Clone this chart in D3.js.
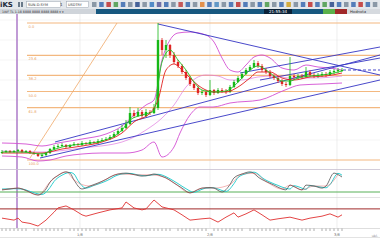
<!DOCTYPE html>
<html><head><meta charset="utf-8">
<script src="https://cdn.jsdelivr.net/npm/d3@7"></script>
<style>body{margin:0;background:#fff;overflow:hidden}svg{display:block}text{font-family:"DejaVu Sans",sans-serif}</style>
</head><body><svg id="c" width="380" height="240"></svg>
<script>
// ---------- DATA ----------
const opens=[1.07,1.08,1.09,1.08,1.09,1.10,1.08,1.09,1.07,1.06,
1.04,1.05,1.07,1.11,1.13,1.14,1.15,1.13,1.15,1.16,
1.15,1.17,1.16,1.18,1.17,1.19,1.20,1.21,1.23,1.26,
1.29,1.32,1.36,1.47,1.44,1.48,1.44,1.48,1.47,1.52,
2.20,2.10,2.15,2.05,1.98,1.94,1.88,1.82,1.76,1.72,
1.67,1.68,1.65,1.70,1.67,1.70,1.69,1.68,1.73,1.78,
1.82,1.86,1.90,1.93,1.97,1.94,1.90,1.88,1.84,1.82,
1.79,1.76,1.75,1.84,1.83,1.84,1.83,1.88,1.85,1.84,
1.85,1.86,1.85,1.88,1.89,1.89];
const highs=[1.10,1.10,1.10,1.10,1.11,1.11,1.10,1.10,1.08,1.07,
1.07,1.08,1.12,1.15,1.16,1.17,1.16,1.16,1.18,1.17,
1.19,1.18,1.20,1.19,1.21,1.22,1.23,1.25,1.28,1.31,
1.35,1.40,1.53,1.50,1.52,1.50,1.51,1.50,1.56,2.37,
2.22,2.20,2.16,2.08,2.00,1.96,1.90,1.84,1.78,1.74,
1.70,1.70,1.80,1.71,1.72,1.72,1.71,1.75,1.80,1.84,
1.88,1.92,1.95,2.00,1.99,1.96,1.92,1.90,1.86,1.84,
1.81,1.78,2.03,1.86,1.86,1.86,1.93,1.90,1.87,1.87,
1.88,1.88,1.90,1.91,1.92,1.92];
const lows=[1.06,1.07,1.07,1.07,1.08,1.07,1.07,1.06,1.05,1.03,
1.03,1.04,1.06,1.10,1.12,1.13,1.12,1.12,1.14,1.14,
1.14,1.15,1.15,1.16,1.16,1.18,1.19,1.20,1.22,1.25,
1.28,1.31,1.35,1.42,1.43,1.42,1.43,1.45,1.46,1.50,
2.05,2.02,2.02,1.96,1.92,1.86,1.80,1.74,1.70,1.65,
1.65,1.63,1.64,1.65,1.66,1.67,1.66,1.67,1.72,1.77,
1.81,1.85,1.89,1.92,1.92,1.88,1.86,1.82,1.80,1.77,
1.74,1.73,1.74,1.80,1.81,1.81,1.82,1.83,1.82,1.82,
1.83,1.83,1.84,1.86,1.87,1.88];
const closes=[1.08,1.09,1.08,1.09,1.10,1.08,1.09,1.07,1.06,1.04,
1.05,1.07,1.11,1.13,1.14,1.15,1.13,1.15,1.16,1.15,
1.17,1.16,1.18,1.17,1.19,1.20,1.21,1.23,1.26,1.29,
1.32,1.36,1.47,1.44,1.48,1.44,1.48,1.47,1.52,2.20,
2.10,2.15,2.05,1.98,1.94,1.88,1.82,1.76,1.72,1.67,
1.68,1.65,1.70,1.67,1.70,1.69,1.68,1.73,1.78,1.82,
1.86,1.90,1.93,1.97,1.94,1.90,1.88,1.84,1.82,1.79,
1.76,1.75,1.84,1.83,1.84,1.83,1.88,1.85,1.84,1.85,
1.86,1.85,1.88,1.89,1.90,1.90];

const redMA=[[0,1.07],[10,1.07],[15,1.11],[20,1.14],[25,1.18],[30,1.27],[33,1.38],[37,1.47],[39,1.60],[41,1.90],[43,1.96],[45,1.90],[47,1.82],[50,1.72],[53,1.68],[56,1.68],[59,1.73],[62,1.82],[64,1.88],[67,1.88],[70,1.82],[73,1.80],[77,1.83],[81,1.84],[85,1.87]];
const greenMA=[[0,1.08],[5,1.08],[10,1.06],[12,1.09],[15,1.13],[20,1.16],[25,1.19],[30,1.30],[32,1.40],[35,1.45],[38,1.49],[39,1.75],[40,1.98],[42,2.10],[44,2.00],[46,1.90],[48,1.78],[50,1.70],[53,1.68],[56,1.69],[58,1.74],[60,1.82],[62,1.90],[64,1.94],[66,1.90],[68,1.84],[70,1.79],[72,1.79],[74,1.82],[77,1.84],[80,1.85],[83,1.87],[85,1.89]];
const bbUpper=[[0,1.17],[6,1.16],[10,1.14],[14,1.17],[20,1.21],[26,1.26],[30,1.34],[33,1.45],[36,1.55],[38,1.60],[40,2.00],[42,2.20],[44,2.27],[47,2.28],[51,2.25],[53,2.18],[55,2.02],[57,1.90],[59,1.88],[61,1.95],[63,2.03],[65,2.05],[67,2.02],[70,1.92],[73,1.90],[76,1.95],[79,1.93],[82,1.92],[85,1.90]];
const bbLower=[[0,1.04],[5,1.03],[9,0.99],[12,1.00],[16,1.04],[20,1.06],[25,1.07],[31,1.07],[35,1.10],[38,1.18],[40,1.03],[43,1.13],[44.5,1.27],[47,1.45],[49.5,1.53],[52.75,1.53],[57,1.57],[64.5,1.60],[70.75,1.70],[74.5,1.75],[80,1.76],[85,1.77]];
const bbMid=[[0,1.09],[10,1.08],[20,1.12],[30,1.18],[36,1.30],[40,1.42],[43,1.55],[46,1.73],[51,1.85],[54,1.84],[57,1.80],[60,1.80],[64,1.83],[68,1.84],[72,1.82],[78,1.82],[85,1.84]];

// trend lines: [index0, price0, index1, price1]
const trendLines=[[39,2.36,94.5,1.85],[9.5,1.02,94.5,1.80],[13.25,1.18,94.5,2.05],[59.5,1.87,94.5,2.13],[64.5,1.80,94.5,2.02]];
const dashLevel=[85.25,1.90,94.5];
// fibonacci
const fibHigh=2.37, fibLow=1.00;
const fibRatios=[0,0.236,0.382,0.5,0.618,1];
const fibLabels=["0.0","23.6","38.2","50.0","61.8","100.0"];
const fibStartIdx=6.25;
const fibTrend=[7,1.02,28.75,2.37];
const markerIdx=3.75;

const stochK=[[0,27],[2,30],[4,33],[6,25],[9,10],[11,30],[12,53],[14,75],[16,87],[17,83],[18,60],[20,30],[22,40],[24,50],[26,62],[27,70],[29,80],[31,83],[33,78],[35,73],[37,77],[38,80],[40,72],[41,67],[43,50],[45,33],[47,17],[49,28],[50,33],[52,35],[53,33],[55,20],[57,45],[58,67],[60,80],[62,87],[63,82],[64,70],[66,55],[68,43],[70,30],[71,27],[72,43],[73,38],[75,27],[76,43],[78,40],[80,33],[81,40],[83,83],[84,78],[85,70]];
const stochD=[[0,30],[3,31],[5,30],[7,22],[10,12],[12,35],[13,55],[15,76],[17,85],[18,80],[19,58],[21,33],[23,42],[25,51],[27,63],[28,71],[30,80],[32,82],[34,77],[36,74],[38,78],[39,79],[41,71],[42,64],[44,48],[46,31],[48,19],[50,29],[51,33],[53,34],[54,30],[56,22],[58,48],[59,68],[61,81],[63,86],[64,80],[65,68],[67,53],[69,42],[71,32],[72,30],[73,41],[74,38],[76,29],[77,41],[79,38],[81,34],[82,45],[84,82],[85,76]];
const stochLevels=[20,92];
const rsi=[[0,42],[3,36],[4,42],[5,30],[7,26],[9,18],[11,36],[13,60],[14,73],[16,79],[18,67],[20,52],[21,48],[24,58],[27,67],[30,73],[31,91],[33,73],[35,67],[36,70],[38,97],[40,76],[41,73],[43,67],[45,52],[47,36],[50,40],[52,42],[54,30],[56,45],[58,58],[59,45],[61,55],[63,67],[65,52],[67,36],[69,40],[72,45],[75,36],[77,42],[80,48],[82,55],[84,45],[85,52]];
const rsiLevel=70;

const dateLabels=["1/8","2/8","3/8"];
const dateIdx=[19.5,52,83.75];
const priceGrid=[1.2,1.4,1.6,1.8,2.0,2.2,2.4];

// ---------- DRAW ----------
const svg=d3.select("#c");
const x=d3.scaleLinear().domain([0,85]).range([2,342]);
const y=d3.scaleLinear().domain([0.92,2.46]).range([168,14]);
const yS=d3.scaleLinear().domain([0,100]).range([198,168]);
const yR=d3.scaleLinear().domain([0,100]).range([232,199]);

svg.append("rect").attr("width",380).attr("height",240).attr("fill","#fff");

// toolbar
svg.append("rect").attr("x",0).attr("y",0).attr("width",380).attr("height",9).attr("fill","#e3e7eb");
svg.append("text").attr("x",0).attr("y",7).attr("font-size",7).attr("font-weight","bold").attr("fill","#1d2a3a").text("iKS");
svg.append("rect").attr("x",18).attr("y",2).attr("width",2).attr("height",5).attr("fill","#6a7a8a");
svg.append("rect").attr("x",21).attr("y",2).attr("width",2).attr("height",5).attr("fill","#6a7a8a");
svg.append("rect").attr("x",26.5).attr("y",1.5).attr("width",34).attr("height",6).attr("fill","#fff").attr("stroke","#9aa4b0").attr("stroke-width",0.5);
svg.append("text").attr("x",28).attr("y",6).attr("font-size",3.5).attr("fill","#333").text("SUN-D-SYM");
svg.append("text").attr("x",60).attr("y",6).attr("font-size",4).attr("fill","#333").text("1");
svg.append("rect").attr("x",66.5).attr("y",1.5).attr("width",22).attr("height",6).attr("fill","#fff").attr("stroke","#9aa4b0").attr("stroke-width",0.5);
svg.append("text").attr("x",68).attr("y",6).attr("font-size",3.5).attr("fill","#333").text("USDTRY");
const iconColors=["#7a8a9a","#3a6ab0","#c03030","#4a9a4a","#3a6ab0","#7a8a9a","#2a4a8a","#7a8a9a","#3a7ac0","#5a5a9a","#3a6ab0","#7a8a9a","#c04040","#3a6ab0","#7a8a9a","#e08030","#3a6ab0","#4a8ac0","#7a8a9a","#3a6ab0","#c03030","#3a6ab0","#7a8a9a","#3a6ab0","#4a9a4a","#7a8a9a","#3a6ab0","#d0a020","#7a8a9a","#3a6ab0","#c03030","#3a6ab0","#4a9a4a","#2a4a8a","#3a6ab0","#7a8a9a","#3a6ab0","#c03030","#3a6ab0","#7a8a9a"];
iconColors.forEach((c,k)=>{svg.append("rect").attr("x",92+k*7.2).attr("y",2).attr("width",4.5).attr("height",5).attr("fill",c).attr("opacity",0.85);});
// second bar
svg.append("rect").attr("x",0).attr("y",9).attr("width",96).attr("height",5).attr("fill","#cfd4da");
svg.append("text").attr("x",2).attr("y",12.8).attr("font-size",3.2).attr("fill","#333").text("1WF   TL   1.18  8888 8888 8888 8888 \u25be \u25be");
svg.append("rect").attr("x",96).attr("y",9).attr("width",227).attr("height",5).attr("fill","#17587f");
svg.append("rect").attr("x",264).attr("y",9).attr("width",28).attr("height",5).attr("fill","#0a2238");
svg.append("text").attr("x",278).attr("y",13).attr("text-anchor","middle").attr("font-size",4).attr("fill","#fff").text("21:55:34");
svg.append("rect").attr("x",323).attr("y",9).attr("width",12).attr("height",5).attr("fill","#5ab04a");
svg.append("rect").attr("x",335).attr("y",9).attr("width",12).attr("height",5).attr("fill","#a02828");
svg.append("rect").attr("x",347).attr("y",9).attr("width",33).attr("height",5).attr("fill","#d6dadf");
svg.append("text").attr("x",350).attr("y",13).attr("font-size",3.8).attr("fill","#333").text("Hodnota");

// grid
const g=svg.append("g");
priceGrid.forEach(p=>g.append("line").attr("x1",0).attr("x2",380).attr("y1",y(p)).attr("y2",y(p)).attr("stroke","#eeeeee").attr("stroke-width",0.6));
dateIdx.forEach(i=>g.append("line").attr("x1",x(i)).attr("x2",x(i)).attr("y1",14).attr("y2",228).attr("stroke","#e2e2e2").attr("stroke-width",0.6));

// fib levels
fibRatios.forEach((r,k)=>{
  const p=fibHigh-r*(fibHigh-fibLow);
  g.append("line").attr("x1",x(fibStartIdx)).attr("x2",380).attr("y1",y(p)).attr("y2",y(p)).attr("stroke","#f3b880").attr("stroke-width",1.2);
  g.append("text").attr("x",x(fibStartIdx)+1.5).attr("y",y(p)+5).attr("font-size",3.6).attr("fill","#e8a060").text(fibLabels[k]);
});
g.append("line").attr("x1",x(fibTrend[0])).attr("y1",y(fibTrend[1])).attr("x2",x(fibTrend[2])).attr("y2",y(fibTrend[3])).attr("stroke","#f0a868").attr("stroke-width",0.8);

// marker vertical purple
g.append("line").attr("x1",x(markerIdx)).attr("x2",x(markerIdx)).attr("y1",14).attr("y2",228).attr("stroke","#b283cc").attr("stroke-width",1.6);

const line=d3.line().x(d=>x(d[0])).y(d=>y(d[1])).curve(d3.curveMonotoneX);
function path(data,col,w){svg.append("path").attr("d",line(data)).attr("fill","none").attr("stroke",col).attr("stroke-width",w);}
path(bbUpper,"#d24fd2",0.9);
path(bbLower,"#d24fd2",0.9);
path(bbMid,"#e07ae0",0.7);

// trend lines
trendLines.forEach(t=>svg.append("line").attr("x1",x(t[0])).attr("y1",y(t[1])).attr("x2",x(t[2])).attr("y2",y(t[3])).attr("stroke","#3434c4").attr("stroke-width",0.9));
svg.append("line").attr("x1",x(dashLevel[0])).attr("x2",x(dashLevel[2])).attr("y1",y(dashLevel[1])).attr("y2",y(dashLevel[1])).attr("stroke","#3434c4").attr("stroke-width",0.9).attr("stroke-dasharray","3,2");

// candles
const cg=svg.append("g");
closes.forEach((c,i)=>{
  const o=opens[i],up=c>=o,col=up?"#16b816":"#e02424";
  cg.append("line").attr("x1",x(i)).attr("x2",x(i)).attr("y1",y(highs[i])).attr("y2",y(lows[i])).attr("stroke",col).attr("stroke-width",0.8);
  const t=y(Math.max(o,c)),b=y(Math.min(o,c));
  cg.append("rect").attr("x",x(i)-1.2).attr("y",t).attr("width",2.4).attr("height",Math.max(1,b-t)).attr("fill",col);
});
path(redMA,"#e02020",0.9);
path(greenMA,"#20c020",0.9);

// panes separators
svg.append("line").attr("x1",0).attr("x2",380).attr("y1",169.5).attr("y2",169.5).attr("stroke","#c8c0d0").attr("stroke-width",0.8);
svg.append("line").attr("x1",0).attr("x2",380).attr("y1",yS(stochLevels[0])).attr("y2",yS(stochLevels[0])).attr("stroke","#58b058").attr("stroke-width",1);
svg.append("line").attr("x1",0).attr("x2",380).attr("y1",197.5).attr("y2",197.5).attr("stroke","#d0d0d0").attr("stroke-width",0.6);
svg.append("line").attr("x1",0).attr("x2",380).attr("y1",yR(rsiLevel)).attr("y2",yR(rsiLevel)).attr("stroke","#a02a2a").attr("stroke-width",1);

const lS=d3.line().x(d=>x(d[0])).y(d=>yS(d[1])).curve(d3.curveMonotoneX);
svg.append("path").attr("d",lS(stochD)).attr("fill","none").attr("stroke","#30d0d0").attr("stroke-width",1);
svg.append("path").attr("d",lS(stochK)).attr("fill","none").attr("stroke","#555").attr("stroke-width",0.8);
svg.append("path").attr("d",lS(stochK.filter((d,k)=>k%2===0))).attr("fill","none").attr("stroke","#e03030").attr("stroke-width",0.5).attr("opacity",0.7);
const lR=d3.line().x(d=>x(d[0])).y(d=>yR(d[1])).curve(d3.curveLinear);
svg.append("path").attr("d",lR(rsi)).attr("fill","none").attr("stroke","#e03030").attr("stroke-width",0.9);

// bottom axis
svg.append("line").attr("x1",0).attr("x2",380).attr("y1",228.5).attr("y2",228.5).attr("stroke","#c8c8c8").attr("stroke-width",0.6);
closes.forEach((c,i)=>{ if(i%9!==7) svg.append("line").attr("x1",x(i)).attr("x2",x(i)).attr("y1",228.5).attr("y2",231).attr("stroke","#777").attr("stroke-width",0.6);});
dateLabels.forEach((t,k)=>svg.append("text").attr("x",x(dateIdx[k])).attr("y",235.5).attr("text-anchor","middle").attr("font-size",3.6).attr("fill","#666").text(t));
svg.append("line").attr("x1",0).attr("x2",380).attr("y1",237.5).attr("y2",237.5).attr("stroke","#d0d0d0").attr("stroke-width",0.6);
svg.append("text").attr("x",378).attr("y",236.5).attr("text-anchor","end").attr("font-size",3.4).attr("fill","#888").text("ubl.");
</script></body></html>
